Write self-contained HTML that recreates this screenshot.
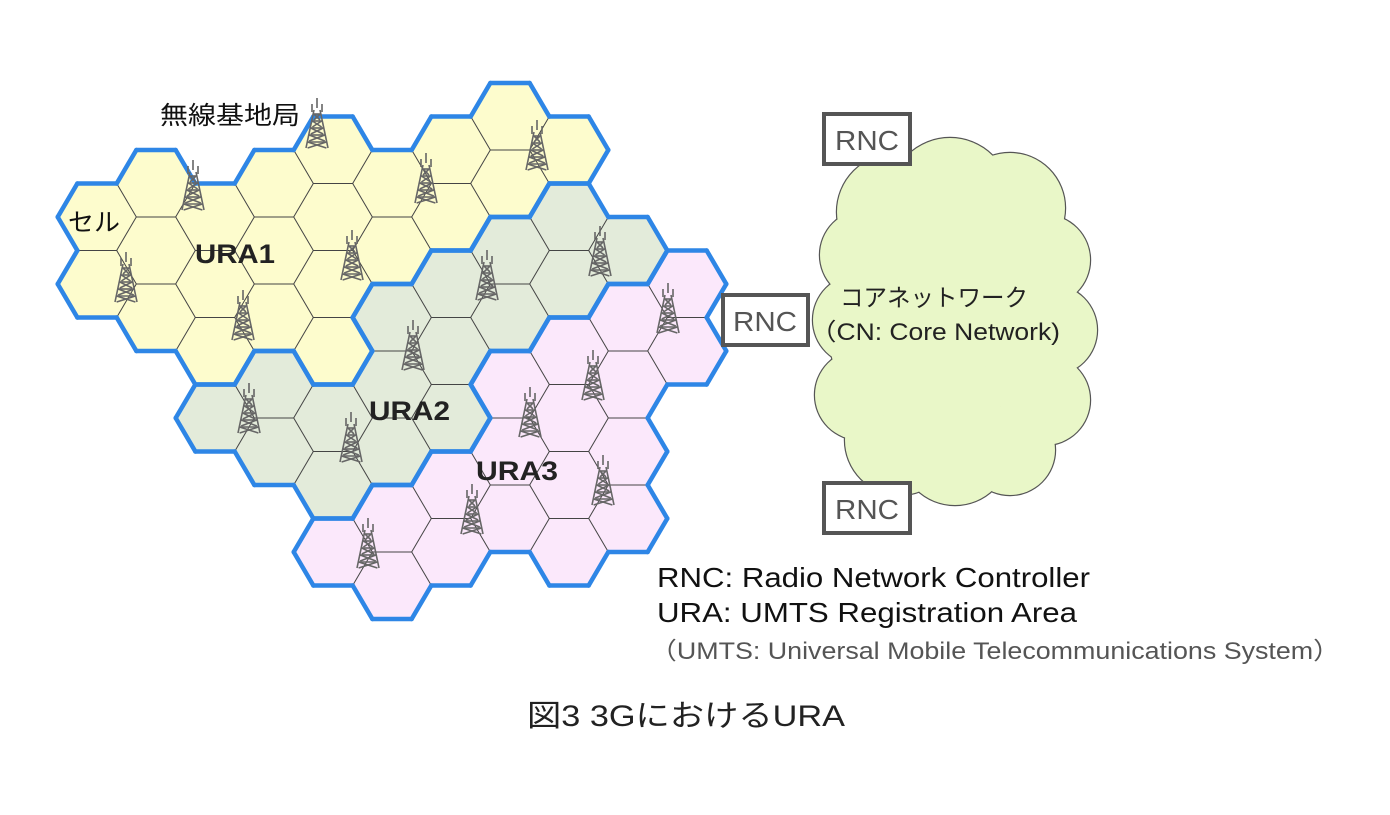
<!DOCTYPE html>
<html><head><meta charset="utf-8"><style>
body{margin:0;width:1390px;height:810px;background:#fff;overflow:hidden}
svg text{font-family:"Liberation Sans","Noto Sans CJK JP",sans-serif}
</style></head><body>
<svg id="s" width="1390" height="810" viewBox="0 0 1390 810" xmlns="http://www.w3.org/2000/svg">
<g id="fills"></g><g id="thin" stroke="#444" stroke-width="1" fill="none"></g><g id="thick" stroke="#2e86e6" stroke-width="4.5" stroke-linecap="round" fill="none"></g>
<g id="towers"></g>
<g id="cloud"></g>
<g fill="#fff" stroke="#555" stroke-width="4">
<rect x="824" y="114" width="86" height="50"/>
<rect x="723" y="295" width="85" height="50"/>
<rect x="824" y="483" width="86" height="50"/>
</g>
<g font-size="28" fill="#555">
<text x="835" y="150" textLength="64" lengthAdjust="spacingAndGlyphs">RNC</text>
<text x="733" y="331" textLength="64" lengthAdjust="spacingAndGlyphs">RNC</text>
<text x="835" y="519" textLength="64" lengthAdjust="spacingAndGlyphs">RNC</text>
</g>
<g font-size="24" fill="#222">
<text x="840" y="306" textLength="188" lengthAdjust="spacingAndGlyphs">コアネットワーク</text>
<text x="810" y="340" textLength="250" lengthAdjust="spacingAndGlyphs">（CN: Core Network)</text>
</g>
<g font-size="25" fill="#111">
<text x="160" y="124" textLength="140" lengthAdjust="spacingAndGlyphs">無線基地局</text>
<text x="68" y="231" textLength="52" lengthAdjust="spacingAndGlyphs">セル</text>
</g>
<g font-size="27" font-weight="bold" fill="#222">
<text x="195" y="263" textLength="80" lengthAdjust="spacingAndGlyphs">URA1</text>
<text x="369" y="420" textLength="81" lengthAdjust="spacingAndGlyphs">URA2</text>
<text x="476" y="480" textLength="82" lengthAdjust="spacingAndGlyphs">URA3</text>
</g>
<g fill="#111">
<text x="657" y="587" font-size="28" textLength="433" lengthAdjust="spacingAndGlyphs">RNC: Radio Network Controller</text>
<text x="657" y="622" font-size="28" textLength="420" lengthAdjust="spacingAndGlyphs">URA: UMTS Registration Area</text>
<text x="650" y="659" font-size="24" fill="#555" textLength="690" lengthAdjust="spacingAndGlyphs">（UMTS: Universal Mobile Telecommunications System）</text>
<text x="527" y="726" font-size="30" fill="#222" textLength="318" lengthAdjust="spacingAndGlyphs">図3  3GにおけるURA</text>
</g>
</svg>
<script>
var NS="http://www.w3.org/2000/svg";
function el(p,t,a){var e=document.createElementNS(NS,t);for(var k in a)e.setAttribute(k,a[k]);document.getElementById(p).appendChild(e);return e;}
var W=39.3,H=33.5;
var data={0:"3Y 5Y",1:"2Y 4Y 6Y",2:"3Y 5Y 7Y 9G",3:"2Y 4Y 6Y 8G 10G",4:"1Y 3Y 5Y 7Y 9G 11G 13P",
5:"2Y 4Y 6G 8G 10G 12P 14P",6:"1Y 3Y 5G 7G 9G 11P 13P",7:"0Y 2Y 4G 6G 8P 10P 12P",
8:"1Y 3G 5G 7P 9P 11P 13P",9:"4G 6P 8P 10P 12P",10:"5P 7P"};
var col={Y:"#fdfccd",G:"#e3ebda",P:"#fbe8fb"};
var map={};
for(var k in data){data[k].split(" ").forEach(function(s){var m=parseInt(s);map[k+","+m]=s.slice(-1);});}
function c(k,m){return [97+59*k,116.5+33.5*m];}
function verts(k,m){var p=c(k,m),x=p[0],y=p[1];
return [[x+W,y],[x+W/2,y+H],[x-W/2,y+H],[x-W,y],[x-W/2,y-H],[x+W/2,y-H]];}
var nb=[[1,1],[0,2],[-1,1],[-1,-1],[0,-2],[1,-1]];
for(var key in map){var a=key.split(","),k=+a[0],m=+a[1];var v=verts(k,m);
el("fills","polygon",{points:v.map(function(p){return p.join(",")}).join(" "),fill:col[map[key]]});}
for(var key in map){var a=key.split(","),k=+a[0],m=+a[1];var v=verts(k,m);
for(var i=0;i<6;i++){var n=(k+nb[i][0])+","+(m+nb[i][1]);var p1=v[i],p2=v[(i+1)%6];
var g=(!map[n]||map[n]!=map[key])?"thick":"thin";
if(g=="thin"&&i>2)continue;
el(g,"line",{x1:p1[0],y1:p1[1],x2:p2[0],y2:p2[1]});}}
var T=[[317,98],[193,160],[126,252],[243,290],[352,230],[426,153],[537,120],[487,250],[600,226],[413,320],[249,383],[351,412],[668,283],[593,350],[530,387],[603,455],[472,484],[368,518]];
T.forEach(function(t){var x=t[0],y=t[1],g=el("towers","g",{stroke:"#666","stroke-width":"1.6",fill:"none"});
function L(a,b,c2,d){var e=document.createElementNS(NS,"line");e.setAttribute("x1",a);e.setAttribute("y1",b);e.setAttribute("x2",c2);e.setAttribute("y2",d);g.appendChild(e);}
L(x,y,x,y+10);L(x-5,y+6,x-5,y+14);L(x+5,y+6,x+5,y+14);
L(x-3,y+12,x-11,y+50);L(x+3,y+12,x+11,y+50);
for(var j=0;j<5;j++){var yy=y+16+j*7,h=3+j*1.6;L(x-h,yy,x+h,yy+6);L(x+h,yy,x-h,yy+6);L(x-h,yy,x+h,yy);}
});
var C=[[895,212,58],[950,198,60],[1010,208,55],[1045,260,45],[1052,330,45],[1045,400,45],[1010,450,45],[955,450,55],[900,440,55],[860,395,45],[858,320,45],[865,255,45],[950,320,100],[990,300,80],[910,340,80]];
C.forEach(function(q){el("cloud","circle",{cx:q[0],cy:q[1],r:q[2],fill:"#e9f7c8",stroke:"#555","stroke-width":"2.4"});});
C.forEach(function(q){el("cloud","circle",{cx:q[0],cy:q[1],r:q[2],fill:"#e9f7c8"});});
</script>
</body></html>
